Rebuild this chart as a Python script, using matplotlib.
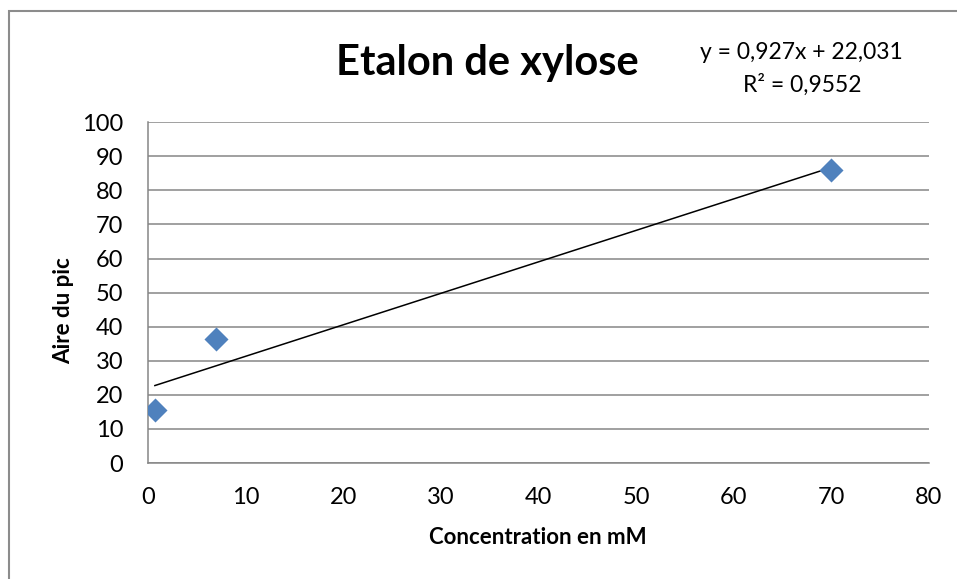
import numpy as np
import matplotlib
matplotlib.use('Agg')
import matplotlib.pyplot as plt
from matplotlib.patches import Rectangle

# data
concentration = [0.7, 7, 70]
aire = [15.5, 36.5, 86]
x_ticks = [0, 10, 20, 30, 40, 50, 60, 70, 80]
y_ticks = [0, 10, 20, 30, 40, 50, 60, 70, 80, 90, 100]
equation = "y = 0,927x + 22,031"
r_squared = "R² = 0,9552"

plt.rcParams['font.family'] = ['Lato', 'DejaVu Sans']

fig = plt.figure(figsize=(9.57, 5.79), dpi=100)
ax = fig.add_axes([0.1547, 0.2003, 0.8160, 0.5887])

# outer chart border (right and bottom edges fall outside the picture)
fig.patches.append(Rectangle((0.0094, -0.2), 1.2, 1.181, transform=fig.transFigure,
                             fill=False, edgecolor='#8c8c8c', linewidth=1.5))

# linear trendline
slope, intercept = np.polyfit(concentration, aire, 1)
xs = np.array([min(concentration), max(concentration)])
ax.plot(xs, slope * xs + intercept, color='black', linewidth=1.1, zorder=3)

ax.scatter(concentration, aire, marker='D', s=150, color='#4f81bd', zorder=4, linewidths=0)

ax.set_xlim(0, 80)
ax.set_ylim(0, 100)
ax.set_xticks(x_ticks)
ax.set_yticks(y_ticks)
ax.tick_params(length=0, labelsize=17)
ax.tick_params(axis='x', pad=17)
ax.tick_params(axis='y', pad=18)
ax.grid(axis='y', color='#868686', linewidth=1.1)
ax.set_axisbelow(True)
for s in ['top', 'right']:
    ax.spines[s].set_visible(False)
for s in ['left', 'bottom']:
    ax.spines[s].set_color('#868686')
    ax.spines[s].set_linewidth(1.1)

# axis titles placed like in the excel chart
fig.text(0.562, 0.071, 'Concentration en mM', fontsize=16, fontweight='bold', ha='center', va='center')
fig.text(0.066, 0.463, 'Aire du pic', fontsize=16, fontweight='bold', ha='center', va='center',
         rotation=90)

fig.text(0.509, 0.870, 'Etalon de xylose', fontsize=30, fontweight='bold', ha='center', va='baseline')
fig.text(0.837, 0.898, equation, fontsize=16.5, ha='center', va='baseline')
fig.text(0.838, 0.841, r_squared, fontsize=16.5, ha='center', va='baseline')

fig.savefig('out.png', dpi=100)
